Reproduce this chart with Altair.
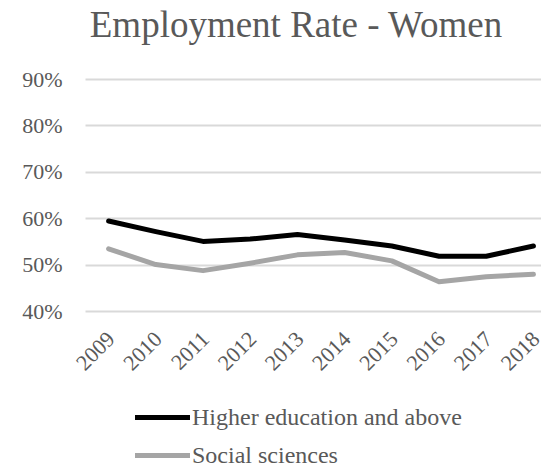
import altair as alt
import pandas as pd

years = [2009, 2010, 2011, 2012, 2013, 2014, 2015, 2016, 2017, 2018]
higher_edu = [59.4, 57.1, 55.0, 55.5, 56.5, 55.3, 54.0, 51.8, 51.8, 54.0]
social_sci = [53.4, 50.0, 48.7, 50.3, 52.1, 52.6, 50.8, 46.3, 47.4, 47.9]
series_names = ["Higher education and above", "Social sciences"]
series_colors = ["#000000", "#a5a5a5"]
y_ticks = [0.4, 0.5, 0.6, 0.7, 0.8, 0.9]

rows = []
for name, vals in zip(series_names, [higher_edu, social_sci]):
    for yr, v in zip(years, vals):
        rows.append({"Year": yr, "Rate": v / 100.0, "Series": name})
df = pd.DataFrame(rows)

FONT = "Liberation Serif"
GRAY = "#595959"

chart = alt.Chart(df).mark_line(strokeWidth=5, strokeCap="round", strokeJoin="round").encode(
    x=alt.X("Year:Q",
            scale=alt.Scale(domain=[2008.5, 2018.16], nice=False, zero=False),
            axis=alt.Axis(values=years, format="d", title=None, grid=False, domain=False,
                          ticks=False, labelAngle=315, labelFontSize=22, labelColor=GRAY,
                          labelFont=FONT, labelPadding=17, labelOffset=-5, labelFlush=False,
                          labelOverlap=False, labelBound=False)),
    y=alt.Y("Rate:Q",
            scale=alt.Scale(domain=[0.4, 0.9], nice=False, zero=False),
            axis=alt.Axis(values=y_ticks, format=".0%", title=None, domain=False, ticks=False,
                          gridColor="#d9d9d9", gridWidth=2, labelFontSize=22,
                          labelColor=GRAY, labelFont=FONT, labelPadding=23)),
    color=alt.Color("Series:N",
                    scale=alt.Scale(domain=series_names, range=series_colors),
                    legend=alt.Legend(title=None, orient="none", legendX=61, legendY=322,
                                      direction="vertical", symbolType="M-2,0H2",
                                      symbolSize=756, symbolStrokeWidth=5,
                                      labelFontSize=24, labelFont=FONT, labelColor=GRAY,
                                      labelOffset=13, labelLimit=400, rowPadding=9,
                                      padding=0)),
).properties(
    width=456,
    height=232,
    title=alt.TitleParams("Employment Rate - Women", font=FONT, fontSize=37,
                          fontWeight="normal", color=GRAY, anchor="middle",
                          frame="group", dx=-17, offset=23),
    autosize=alt.AutoSizeParams(type="none"),
    padding={"left": 77, "top": 71, "right": 0, "bottom": 154},
).configure_view(stroke=None)

chart.save("out.html", embed_options={"renderer": "svg", "actions": False})
